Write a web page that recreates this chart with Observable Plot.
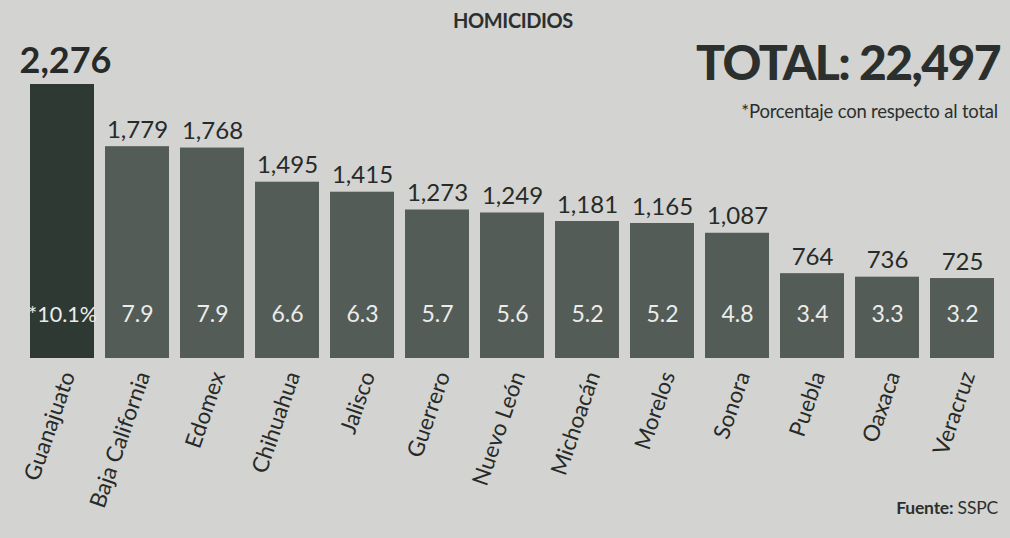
<!DOCTYPE html>
<html>
<head>
<meta charset="utf-8">
<script src="https://cdn.jsdelivr.net/npm/d3@7"></script>
<script src="https://cdn.jsdelivr.net/npm/@observablehq/plot@0.6"></script>
<style>
  html, body { margin: 0; padding: 0; background: #d3d3d1; }
  #wrap { position: relative; width: 1010px; height: 538px; overflow: hidden; font-family: Lato, "Noto Sans", sans-serif; color: #2b302e; }
  #chart { position: absolute; left: 0; top: 0; }
  .title { position: absolute; top: 8px; left: 0; width: 1026px; text-align: center; font-size: 20px; font-weight: 700; letter-spacing: -0.4px; }
  .total { position: absolute; top: 33px; right: 10px; font-size: 48px; font-weight: 900; letter-spacing: -1.6px; }
  .note { position: absolute; top: 100px; right: 12px; font-size: 18.5px; letter-spacing: -0.2px; }
  .source { position: absolute; top: 497px; right: 12px; font-size: 17.5px; letter-spacing: -0.2px; }
  .source b { font-weight: 700; }
</style>
</head>
<body>
<div id="wrap">
  <div id="chart"></div>
  <div class="title">HOMICIDIOS</div>
  <div class="total">TOTAL: 22,497</div>
  <div class="note">*Porcentaje con respecto al total</div>
  <div class="source"><b>Fuente:</b> SSPC</div>
</div>
<script>
const estados = ["Guanajuato","Baja California","Edomex","Chihuahua","Jalisco","Guerrero","Nuevo León","Michoacán","Morelos","Sonora","Puebla","Oaxaca","Veracruz"];
const homicidios = [2276,1779,1768,1495,1415,1273,1249,1181,1165,1087,764,736,725];
const porcentajes = [10.1,7.9,7.9,6.6,6.3,5.7,5.6,5.2,5.2,4.8,3.4,3.3,3.2];

const data = estados.map((e, i) => ({
  estado: e,
  valor: homicidios[i],
  pct: porcentajes[i],
  first: i === 0
}));

const fmt = d3.format(",");

const chart = Plot.plot({
  width: 1010,
  height: 538,
  marginTop: 84,
  marginBottom: 180,
  marginLeft: 23,
  marginRight: 10,
  style: { background: "transparent", fontFamily: "Lato, 'Noto Sans', sans-serif" },
  x: { domain: estados, paddingInner: 0.15, paddingOuter: 0.05, axis: null },
  y: { domain: [86, 2276], clamp: true, axis: null },
  marks: [
    Plot.barY(data, { x: "estado", y: "valor", fill: d => d.first ? "#2f3934" : "#545c58" }),
    Plot.text(data.filter(d => !d.first), {
      x: "estado", y: "valor", text: d => fmt(d.valor),
      dy: -9, lineAnchor: "bottom", fontSize: 24, fill: "#262a28"
    }),
    Plot.text(data.filter(d => d.first), {
      x: "estado", y: "valor", text: d => fmt(d.valor),
      dy: -12, dx: 3, lineAnchor: "bottom", fontSize: 36, fontWeight: 700, fill: "#262a28"
    }),
    Plot.text(data.filter(d => !d.first), {
      x: "estado", frameAnchor: "bottom", dy: -37,
      text: d => String(d.pct),
      fontSize: 23, fill: "#ececea"
    }),
    Plot.text(data.filter(d => d.first), {
      x: "estado", frameAnchor: "bottom", dy: -37,
      text: d => "*" + d.pct + "%",
      fontSize: 21.5, letterSpacing: "-0.5px", fill: "#ececea"
    }),
    Plot.text(data, {
      x: "estado", frameAnchor: "bottom", dy: 14, dx: 6,
      text: "estado", rotate: -71, textAnchor: "end", lineAnchor: "middle",
      fontSize: 22.5, fill: "#262a28"
    })
  ]
});
document.getElementById("chart").appendChild(chart);
</script>
</body>
</html>
